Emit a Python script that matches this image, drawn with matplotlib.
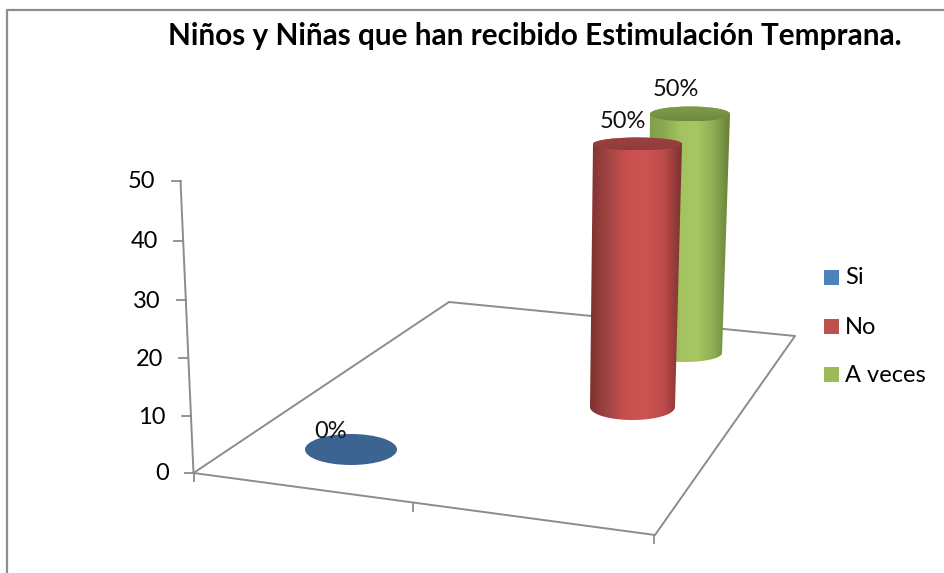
import numpy as np
import matplotlib
matplotlib.use("Agg")
import matplotlib.pyplot as plt
from matplotlib.path import Path
from matplotlib.patches import PathPatch, Ellipse, Rectangle
from matplotlib.colors import LinearSegmentedColormap

title = "Niños y Niñas que han recibido Estimulación Temprana."
categories = ["Si", "No", "A veces"]
values = [0, 50, 50]
data_labels = ["0%", "50%", "50%"]
y_ticks = [0, 10, 20, 30, 40, 50]

plt.rcParams["font.family"] = ["Lato", "DejaVu Sans"]
W, H = 944, 573
fig = plt.figure(figsize=(W / 100, H / 100), dpi=100, facecolor="white")
ax = fig.add_axes([0, 0, 1, 1])
ax.set_xlim(0, W)
ax.set_ylim(H, 0)
ax.axis("off")

GRAY = "#8c8c8c"
# outer chart frame (open on the right and at the bottom)
ax.plot([6.7, 6.7, 944], [573, 10, 10], color="#8e8e8e", lw=1.6, zorder=1)

# perspective value axis
Y0, Y50 = 473.0, 181.0
X0, X50 = 193.5, 180.5
def vy(v):
    p = v / 50
    return Y0 + (Y50 - Y0) * (p * 0.969 / (1 - 0.031 * p))
def vx(v):
    return X0 + (X50 - X0) * (Y0 - vy(v)) / (Y0 - Y50)

ax.plot([vx(0), vx(50)], [vy(0), vy(50)], color=GRAY, lw=1.4, zorder=2)
for t in y_ticks:
    ax.plot([vx(t) - 9, vx(t)], [vy(t), vy(t)], color=GRAY, lw=1.3, zorder=2)
    ax.text(vx(t) - 25, vy(t) + 1, str(t), ha="right", va="center", fontsize=17, color="black", zorder=6)

# floor
floor_x = [193.5, 449, 795, 655, 193.5]
floor_y = [473, 302, 336, 535, 473]
ax.plot(floor_x, floor_y, color=GRAY, lw=1.4, zorder=2)
for x0, y0 in [(193.5, 473), (413, 503), (653.5, 535)]:
    ax.plot([x0, x0], [y0, y0 + 8], color=GRAY, lw=1.3, zorder=2)

body_cmaps = {
    1: ["#7f3230", "#a34644", "#c9504e", "#cd5452", "#bd4c4a", "#7c3331"],
    2: ["#7f9c48", "#8cab50", "#a2c35f", "#a6c763", "#8fae52", "#66803a"],
}
top_cmaps = {
    1: ["#8e3c3a", "#9c4240"],
    2: ["#6f893f", "#7f9c49"],
}

def cyl_path(lt, rt, yt, ht, lb, rb, yb, hb):
    n = 60
    th = np.linspace(0, np.pi, n)
    xt = (lt + rt) / 2 - (rt - lt) / 2 * np.cos(th)
    yts = yt - ht * np.sin(th)
    xb = (lb + rb) / 2 + (rb - lb) / 2 * np.cos(th)
    ybs = yb + hb * np.sin(th)
    xs = np.r_[xt, xb, xt[0]]
    ys = np.r_[yts, ybs, yts[0]]
    return Path(np.c_[xs, ys])

def cylinder(i, lt, rt, yb, ht, lb, rb, hb, px_per_unit, z):
    h = values[i] * px_per_unit
    yt = yb - h
    path = cyl_path(lt, rt, yt, ht, lb, rb, yb, hb)
    cm = LinearSegmentedColormap.from_list("b", body_cmaps[i])
    x1, x2 = min(lt, lb), max(rt, rb)
    im = ax.imshow(np.linspace(0, 1, 256)[None, :], cmap=cm, aspect="auto",
                   extent=[x1, x2, yb + hb, yt - ht], zorder=z)
    im.set_clip_path(PathPatch(path, transform=ax.transData))
    cx, w = (lt + rt) / 2, rt - lt
    top = Ellipse((cx, yt), w, 2 * ht, transform=ax.transData)
    cm2 = LinearSegmentedColormap.from_list("t", top_cmaps[i])
    im2 = ax.imshow(np.linspace(0, 1, 64)[:, None], cmap=cm2, aspect="auto",
                    extent=[lt, rt, yt + ht, yt - ht], origin="lower", zorder=z + 0.1)
    im2.set_clip_path(top)

cylinder(2, 650, 730, 353, 7.5, 648, 722, 9, 239 / values[2], 3)
cylinder(1, 593, 682, 407, 6.5, 590, 675, 13, 263 / values[1], 4)
ax.set_xlim(0, W)
ax.set_ylim(H, 0)

# zero-height bar
ax.add_patch(Ellipse((351, 449.5), 92, 31, facecolor="#3d6391", edgecolor="none", zorder=3))

# data labels
ax.text(331, 431.5, data_labels[0], ha="center", va="center", fontsize=17, color="#111111", zorder=7)
ax.text(623, 121.5, data_labels[1], ha="center", va="center", fontsize=17, color="#111111", zorder=7)
ax.text(676, 89.5, data_labels[2], ha="center", va="center", fontsize=17, color="#111111", zorder=7)

# legend
leg_colors = ["#4f81bd", "#c0504d", "#9bbb59"]
for name, col, y in zip(categories, leg_colors, [277, 326, 374.5]):
    ax.add_patch(Rectangle((824, y - 7.5), 15, 15, facecolor=col, edgecolor="none", zorder=5))
    ax.text(845, y + 1, name, ha="left", va="center", fontsize=17, color="black", zorder=6)

ax.text(535, 35.5, title, ha="center", va="center", fontsize=21.4, fontweight="bold", color="black", zorder=6)

fig.savefig("out.png", dpi=100, facecolor="white")
